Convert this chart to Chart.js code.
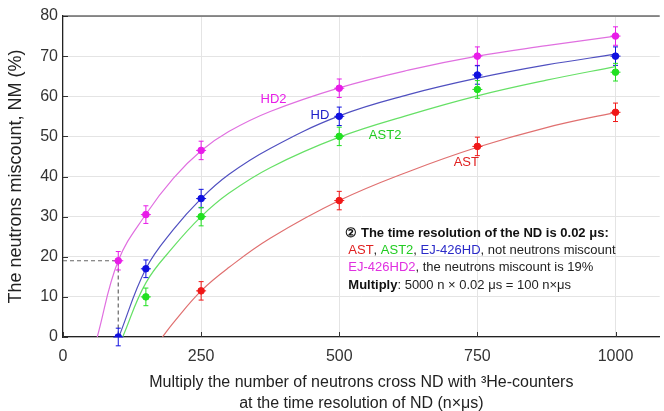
<!DOCTYPE html>
<html>
<head>
<meta charset="utf-8">
<title>Neutrons miscount</title>
<script src="https://cdn.jsdelivr.net/npm/chart.js@4.4.0/dist/chart.umd.min.js"></script>
<style>
  body { margin: 0; background: #fff; }
  #wrap { width: 664px; height: 411px; position: relative; }
</style>
</head>
<body>
<div id="wrap"><canvas id="myChart"></canvas></div>
<script>
// dane
const xTicks = [0, 250, 500, 750, 1000];
const yTicks = [0, 10, 20, 30, 40, 50, 60, 70, 80];

// punkty pomiarowe
const hd2X = [100, 150, 250, 500, 750, 1000];
const hd2Y = [19, 30.5, 46.5, 62, 70, 75];
const hd2Err = [2.3, 2.2, 2.3, 2.3, 2.3, 2.3];

const hdX = [100, 150, 250, 500, 750, 1000];
const hdY = [0, 17, 34.5, 55, 65.3, 70];
const hdErr = [2.2, 2.2, 2.3, 2.3, 2.3, 2.3];

const ast2X = [150, 250, 500, 750, 1000];
const ast2Y = [10, 30, 50, 61.7, 66];
const ast2Err = [2.2, 2.3, 2.3, 2.2, 2.2];

const astX = [250, 500, 750, 1000];
const astY = [11.5, 34, 47.5, 56];
const astErr = [2.3, 2.3, 2.3, 2.3];

// krzywe dopasowania
const hd2CurveX = [62, 100, 150, 200, 250, 300, 375, 500, 625, 750, 875, 1000];
const hd2CurveY = [0, 19, 30.6, 39.6, 46.4, 51.2, 56.2, 62.1, 66.5, 70, 72.6, 75];
const hdCurveX = [101, 150, 200, 250, 300, 375, 500, 625, 750, 875, 1000];
const hdCurveY = [0, 17, 26.8, 34.5, 40.5, 47.0, 55.1, 60.4, 64.5, 67.8, 70.5];
const ast2CurveX = [108, 150, 200, 250, 300, 375, 500, 625, 750, 875, 1000];
const ast2CurveY = [0, 13.5, 22.5, 30, 35.8, 42.2, 49.8, 55.3, 60.1, 64, 67.4];
const astCurveX = [180, 200, 250, 300, 375, 500, 625, 750, 875, 1000];
const astCurveY = [0, 3.6, 11.5, 17.3, 24.6, 34, 41.2, 47.3, 52.2, 56];

// linie pomocnicze (19%)
const guideX = [0, 100, 100];
const guideY = [19, 19, 0];

const pts = (xs, ys) => xs.map((x, i) => ({ x: x, y: ys[i] }));

const col = {
  hd2: '#e81de8', hd2Line: '#e070e0',
  hd: '#1010e0', hdLine: '#5050c0',
  ast2: '#22e022', ast2Line: '#66e066',
  ast: '#f01818', astLine: '#e07070'
};

function curve(xs, ys, c) {
  return {
    data: pts(xs, ys), showLine: true, borderColor: c, borderWidth: 1.2,
    pointRadius: 0, tension: 0.4, fill: false
  };
}
function marks(xs, ys, errs, c) {
  return {
    data: pts(xs, ys), showLine: false, backgroundColor: c, borderColor: c,
    pointRadius: 3.3, pointHoverRadius: 3.3, errs: errs
  };
}

// słupki błędów, etykiety, ramka
const extras = {
  id: 'extras',
  beforeDatasetsDraw(chart) {
    const ctx = chart.ctx, a = chart.chartArea;
    const xs = chart.scales.x, ys = chart.scales.y;
    ctx.save();
    ctx.strokeStyle = '#333';
    ctx.lineWidth = 1;
    xTicks.forEach(v => {
      const px = Math.round(xs.getPixelForValue(v)) + 0.5;
      ctx.beginPath(); ctx.moveTo(px, a.bottom); ctx.lineTo(px, a.bottom - 5); ctx.stroke();
    });
    yTicks.forEach(v => {
      const py = Math.round(ys.getPixelForValue(v)) + 0.5;
      ctx.beginPath(); ctx.moveTo(a.left, py); ctx.lineTo(a.left + 5, py); ctx.stroke();
    });
    ctx.restore();
  },
  afterDatasetsDraw(chart) {
    const ctx = chart.ctx, a = chart.chartArea;
    const xs = chart.scales.x, ys = chart.scales.y;
    ctx.save();
    // górna krawędź
    ctx.strokeStyle = '#222';
    ctx.lineWidth = 1.2;
    ctx.beginPath(); ctx.moveTo(a.left, a.top); ctx.lineTo(a.right, a.top); ctx.stroke();

    // słupki błędów
    chart.data.datasets.forEach(ds => {
      if (!ds.errs) return;
      ctx.strokeStyle = ds.borderColor;
      ctx.lineWidth = 1;
      ds.data.forEach((p, i) => {
        const px = xs.getPixelForValue(p.x);
        const y1 = ys.getPixelForValue(p.y + ds.errs[i]);
        const y2 = ys.getPixelForValue(p.y - ds.errs[i]);
        const py = ys.getPixelForValue(p.y);
        ctx.beginPath();
        ctx.moveTo(px, y1); ctx.lineTo(px, y2);
        ctx.moveTo(px - 2.5, y1); ctx.lineTo(px + 2.5, y1);
        ctx.moveTo(px - 2.5, y2); ctx.lineTo(px + 2.5, y2);
        ctx.moveTo(px - 5, py); ctx.lineTo(px + 5, py);
        ctx.stroke();
      });
    });

    // etykiety krzywych
    ctx.font = '13px "Liberation Sans", Arial, sans-serif';
    ctx.textAlign = 'center';
    ctx.textBaseline = 'middle';
    const labels = [
      ['HD2', 381, 59.2, col.hd2], ['HD', 465, 55.3, '#2020c8'],
      ['AST2', 583, 50.3, '#22cc22'], ['AST', 730, 43.4, '#e02020']
    ];
    labels.forEach(l => {
      ctx.fillStyle = l[3];
      ctx.fillText(l[0], xs.getPixelForValue(l[1]), ys.getPixelForValue(l[2]));
    });

    // opis
    ctx.textAlign = 'left';
    const x0 = xs.getPixelForValue(511);
    const lines = [
      [25.9, [['② ', '#111', 'bold'], ['The time resolution of the ND is 0.02 μs:', '#111', 'bold']]],
      [21.7, [['AST', '#e02020'], [', ', '#222'], ['AST2', '#22cc22'], [', ', '#222'], ['EJ-426HD', '#2a2ac8'], [', not neutrons miscount', '#222']]],
      [17.4, [['EJ-426HD2', '#e030e0'], [', the neutrons miscount is 19%', '#222']]],
      [12.9, [['Multiply', '#111', 'bold'], [': 5000 n × 0.02 μs = 100 n×μs', '#222']]]
    ];
    lines.forEach(line => {
      let x = x0 + (line === lines[0] ? 0 : 3);
      const y = ys.getPixelForValue(line[0]);
      line[1].forEach(seg => {
        ctx.font = (seg[2] ? 'bold ' : '') + '13px "Liberation Sans", Arial, sans-serif';
        ctx.fillStyle = seg[1];
        ctx.fillText(seg[0], x, y);
        x += ctx.measureText(seg[0]).width;
      });
    });
    ctx.restore();
  }
};

const chart = new Chart(document.getElementById('myChart').getContext('2d'), {
  type: 'scatter',
  data: {
    datasets: [
      marks(hd2X, hd2Y, hd2Err, col.hd2),
      marks(hdX, hdY, hdErr, col.hd),
      marks(ast2X, ast2Y, ast2Err, col.ast2),
      marks(astX, astY, astErr, col.ast),
      curve(hd2CurveX, hd2CurveY, col.hd2Line),
      curve(hdCurveX, hdCurveY, col.hdLine),
      curve(ast2CurveX, ast2CurveY, col.ast2Line),
      curve(astCurveX, astCurveY, col.astLine),
      {
        data: pts(guideX, guideY), showLine: true, borderColor: '#666', borderWidth: 1.2,
        borderDash: [4, 3], pointRadius: 0, tension: 0
      }
    ]
  },
  options: {
    responsive: true,
    maintainAspectRatio: false,
    animation: false,
    layout: { padding: { top: 16, right: 1, left: 0, bottom: 0 } },
    plugins: { legend: { display: false }, tooltip: { enabled: false } },
    scales: {
      x: {
        type: 'linear', min: 0, max: 1080,
        afterFit(s) { s.height = 74; },
        afterBuildTicks(s) { s.ticks = xTicks.map(v => ({ value: v })); },
        grid: { color: '#e4e4e4', drawTicks: false },
        border: { color: '#222', width: 1.2 },
        ticks: {
          padding: 10, color: '#333', font: { family: '"Liberation Sans", Arial', size: 16 },
          callback: v => String(v)
        },
        title: {
          display: true,
          text: ['Multiply the number of neutrons cross ND with ³He-counters', 'at the time resolution of ND (n×μs)'],
          color: '#222',
          font: { family: '"Liberation Sans", Arial', size: 16, lineHeight: 1.3 },
          padding: { top: 0, bottom: -3 }
        }
      },
      y: {
        min: 0, max: 80,
        afterFit(s) { s.width = 63; },
        afterBuildTicks(s) { s.ticks = yTicks.map(v => ({ value: v })); },
        grid: { color: '#e4e4e4', drawTicks: false },
        border: { color: '#222', width: 1.2 },
        ticks: {
          padding: 5, color: '#333', font: { family: '"Liberation Sans", Arial', size: 16 },
          callback: v => String(v)
        },
        title: {
          display: true,
          text: 'The neutrons miscount, NM (%)',
          color: '#222',
          font: { family: '"Liberation Sans", Arial', size: 18 },
          padding: { top: 5, bottom: 0 }
        }
      }
    }
  },
  plugins: [extras]
});
</script>
</body>
</html>
